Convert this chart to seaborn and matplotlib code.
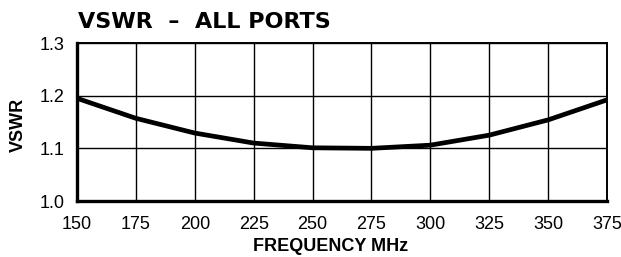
import matplotlib
matplotlib.use("Agg")
import matplotlib.pyplot as plt
import seaborn as sns
import pandas as pd

freq = [150, 175, 200, 225, 250, 275, 300, 325, 350, 375]
vswr = [1.195, 1.157, 1.129, 1.110, 1.101, 1.100, 1.106, 1.125, 1.154, 1.192]
x_ticks = [150, 175, 200, 225, 250, 275, 300, 325, 350, 375]
y_ticks = [1.0, 1.1, 1.2, 1.3]

sns.set_theme(style="white")
plt.rcParams['font.family'] = ['Liberation Sans', 'DejaVu Sans']

df = pd.DataFrame({"freq": freq, "vswr": vswr})

fig = plt.figure(figsize=(6.21, 2.57), dpi=100)
ax = fig.add_axes([77/621, 1 - 201/257, (607-77)/621, (201-43)/257])

sns.lineplot(data=df, x="freq", y="vswr", ax=ax, color="black", linewidth=3.4)

ax.set_xlim(150, 375)
ax.set_ylim(1.0, 1.3)
ax.set_xticks(x_ticks)
ax.set_yticks(y_ticks)
ax.set_yticklabels([f"{v:.1f}" for v in y_ticks])
ax.grid(True, color="black", linewidth=1.0)
for s in ["left", "bottom"]:
    ax.spines[s].set_linewidth(2.4)
for s in ["top", "right"]:
    ax.spines[s].set_linewidth(1.4)
for s in ax.spines.values():
    s.set_color("black")
ax.tick_params(axis="both", length=0, labelsize=13, colors="black")
ax.tick_params(axis="x", pad=11)
ax.tick_params(axis="y", pad=9)

ax.set_xlabel("FREQUENCY MHz", fontsize=13, fontweight="bold", color="black")
ax.xaxis.set_label_coords((331 - 77) / 530, -(238 - 201) / 158)
ax.set_ylabel("VSWR", fontsize=13, fontweight="bold", color="black")
ax.yaxis.set_label_coords(-(77 - 27) / 530, 0.5 - (125 - 122) / 158)
fig.text(78/621, 1 - 22/257, "VSWR  –  ALL PORTS", fontsize=16, fontweight="bold",
         family="DejaVu Sans", color="black", va="center", ha="left")

fig.savefig("out.png", dpi=100, facecolor="white")
